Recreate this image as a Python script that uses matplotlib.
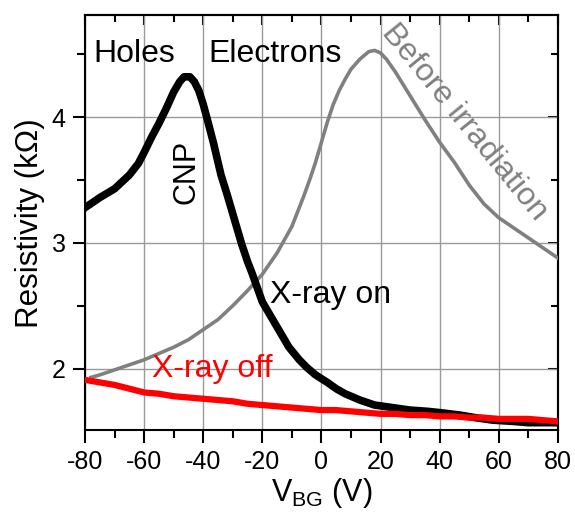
import matplotlib
matplotlib.use('Agg')
from matplotlib import pyplot as plt

plt.rcParams['font.family'] = ['Liberation Sans', 'DejaVu Sans']
plt.rcParams['axes.unicode_minus'] = False

# gate voltage (V) and resistivity (kOhm)
v_on = [-80, -75, -70, -65, -62, -60, -57.5, -55, -52.5, -50, -48, -46.5, -44.5, -43,
        -41.5, -40, -38.5, -36.5, -34, -32, -30, -27, -25, -23.5, -20, -17.5, -15.5,
        -13, -11, -7.5, -5, -2, 2, 5, 8, 13, 18, 24, 30, 36, 40, 47, 52, 58, 65, 70,
        75, 80]
r_on = [3.28, 3.36, 3.43, 3.54, 3.63, 3.72, 3.84, 3.95, 4.07, 4.20, 4.28, 4.32, 4.32,
        4.28, 4.21, 4.10, 3.97, 3.79, 3.54, 3.39, 3.23, 2.99, 2.85, 2.76, 2.53, 2.43,
        2.35, 2.25, 2.17, 2.07, 2.01, 1.95, 1.89, 1.84, 1.80, 1.75, 1.71, 1.69, 1.67,
        1.66, 1.65, 1.63, 1.61, 1.59, 1.58, 1.57, 1.57, 1.57]

v_off = [-80, -75, -70, -65, -60, -55, -50, -45, -40, -35, -30, -25, -20, -15, -10,
         -5, 0, 5, 10, 15, 20, 25, 30, 35, 40, 45, 50, 55, 60, 65, 70, 75, 80]
r_off = [1.91, 1.89, 1.87, 1.84, 1.81, 1.80, 1.78, 1.77, 1.76, 1.75, 1.74, 1.72, 1.71,
         1.70, 1.69, 1.68, 1.67, 1.67, 1.66, 1.65, 1.64, 1.64, 1.63, 1.63, 1.62, 1.62,
         1.61, 1.61, 1.60, 1.60, 1.60, 1.59, 1.58]

v_before = [-78, -75, -70, -65, -60, -55, -50, -45, -40, -35, -30, -25, -20, -15, -10,
            -8, -6, -4, -2, 0, 2, 4, 6, 8, 10, 13, 16, 18, 20, 22, 25, 30, 35, 40, 45,
            50, 55, 60, 65, 70, 75, 80]
r_before = [1.93, 1.95, 1.99, 2.03, 2.07, 2.12, 2.17, 2.23, 2.31, 2.39, 2.50, 2.62,
            2.75, 2.92, 3.13, 3.25, 3.37, 3.50, 3.64, 3.80, 3.96, 4.10, 4.21, 4.30,
            4.38, 4.46, 4.52, 4.53, 4.51, 4.46, 4.36, 4.17, 3.98, 3.80, 3.64, 3.46,
            3.31, 3.20, 3.12, 3.04, 2.96, 2.88]

x_ticks = [-80, -60, -40, -20, 0, 20, 40, 60, 80]
y_ticks = [2, 3, 4]

fig = plt.figure(figsize=(5.75, 5.24), dpi=100)
ax = fig.add_axes([0.148, 0.179, 0.822, 0.792])

ax.plot(v_before, r_before, color='#808080', lw=2.6, zorder=3)
ax.plot(v_on, r_on, color='black', lw=5.5, zorder=4)
ax.plot(v_off, r_off, color='red', lw=4.5, zorder=5)

ax.set_xlim(-80, 80)
ax.set_ylim(1.51, 4.81)
ax.set_xticks(x_ticks)
ax.set_xticks(range(-70, 80, 20), minor=True)
ax.set_yticks(y_ticks)
ax.set_yticks([2.5, 3.5, 4.5], minor=True)
ax.grid(True, which='major', color='#999999', lw=1.0)
ax.set_axisbelow(True)

ax.tick_params(which='major', direction='out', length=9, width=1.5, labelsize=18, pad=5)
ax.tick_params(which='minor', direction='out', length=6, width=1.5)
for s in ax.spines.values():
    s.set_linewidth(1.5)

# mirrored ticks on top and right pointing inward
top = ax.secondary_xaxis('top')
top.set_xticks(x_ticks)
top.set_xticks(range(-70, 80, 20), minor=True)
top.tick_params(which='major', direction='in', length=7, width=1.5, labeltop=False)
top.tick_params(which='minor', direction='in', length=5, width=1.5)
top.spines['top'].set_linewidth(1.5)
right = ax.secondary_yaxis('right')
right.set_yticks(y_ticks)
right.set_yticks([2.5, 3.5, 4.5], minor=True)
right.tick_params(which='major', direction='in', length=7, width=1.5, labelright=False)
right.tick_params(which='minor', direction='in', length=5, width=1.5)
right.spines['right'].set_linewidth(1.5)

ax.set_xlabel('V$_\\mathregular{BG}$ (V)', fontsize=22, labelpad=2)
ax.set_ylabel('Resistivity (k\u03a9)', fontsize=22.5, labelpad=5)

ax.text(-77.3, 4.44, 'Holes', fontsize=23, ha='left', va='baseline')
ax.text(-38.4, 4.44, 'Electrons', fontsize=23, ha='left', va='baseline')
ax.text(-45.7, 3.56, 'CNP', fontsize=22, rotation=90, ha='center', va='center')
ax.text(-17.4, 2.52, 'X-ray on', fontsize=23, ha='left', va='baseline')
ax.text(-57.3, 1.93, 'X-ray off', fontsize=23, color='red', ha='left', va='baseline', zorder=6)
ax.text(48.5, 3.96, 'Before irradiation', fontsize=23, color='#808080', rotation=-50.7,
        rotation_mode='anchor', ha='center', va='center')

plt.savefig('out.png', dpi=100)
